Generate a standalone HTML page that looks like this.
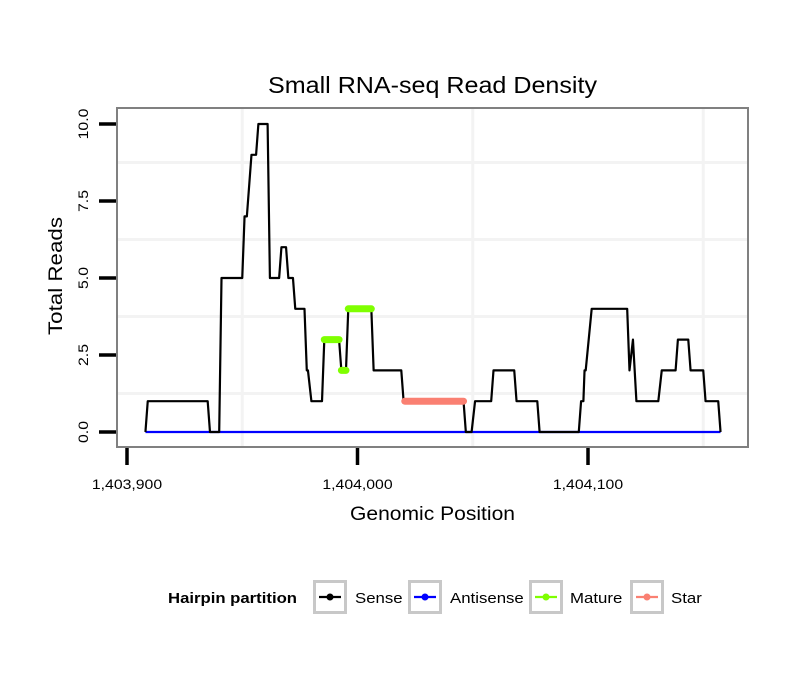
<!DOCTYPE html>
<html><head><meta charset="utf-8"><style>
body{margin:0;background:#fff}
svg{display:block;font-family:"Liberation Sans",sans-serif}
</style></head><body>
<svg id="chart" width="810" height="690">
<rect width="810" height="690" fill="#fff"/>
<text x="268" y="93" font-size="23" textLength="329" lengthAdjust="spacingAndGlyphs">Small RNA-seq Read Density</text>
<g id="grid"></g>
<g id="series"></g>
<rect x="117" y="108" width="631" height="339" fill="none" stroke="#808080" stroke-width="2"/>
<g id="axes"></g>
<text x="350" y="520" font-size="19" textLength="165" lengthAdjust="spacingAndGlyphs">Genomic Position</text>
<text transform="translate(62,335) rotate(-90)" font-size="19" textLength="118" lengthAdjust="spacingAndGlyphs">Total Reads</text>
<g>
<text x="168" y="603" font-size="15" font-weight="bold" textLength="129" lengthAdjust="spacingAndGlyphs">Hairpin partition</text>
<g id="legend"></g>
</g>
</svg>
<script>
const sensePos=[1403908,1403909,1403935,1403936,1403940,1403941,1403950,1403951,1403952,1403954,1403956,1403957,1403961,1403962,1403966,1403967,1403969,1403970,1403972,1403973,1403977,1403978,1403978.5,1403980,1403984.6,1403985.6,1403992,1403993,1403995,1403996,1404006,1404007,1404019,1404020,1404046,1404047,1404049.5,1404051,1404058,1404059,1404068,1404069,1404078,1404079,1404096,1404097,1404098,1404098.5,1404099,1404101.6,1404117,1404118,1404119.5,1404121,1404130.5,1404132,1404138,1404139,1404143.5,1404144.5,1404150,1404151,1404156.5,1404157.5];
const senseVal=[0,1,1,0,0,5,5,7,7,9,9,10,10,5,5,6,6,5,5,4,4,2,2,1,1,3,3,2,2,4,4,2,2,1,1,0,0,1,1,2,2,1,1,0,0,1,1,2,2,4,4,2,3,1,1,2,2,3,3,2,2,1,1,0];
const antisensePos=[1403908,1404157.5];
const antisenseVal=[0,0];
const matureSegStart=[1403985.6,1403993,1403996];
const matureSegEnd=[1403992,1403995,1404006];
const matureVal=[3,2,4];
const starSegStart=[1404020.5];
const starSegEnd=[1404046];
const starVal=[1];
const xTicks=[1403900,1404000,1404100];
const xTickLabels=["1,403,900","1,404,000","1,404,100"];
const yTicks=[0,2.5,5,7.5,10];
const yTickLabels=["0.0","2.5","5.0","7.5","10.0"];
const xMinorGrid=[1403950,1404050,1404150];
const yMinorGrid=[1.25,3.75,6.25,8.75];
const legendLabels=["Sense","Antisense","Mature","Star"];
const legendColors=["#000","#0000ff","#7fff00","#fa8072"];

const X=v=>127+(v-1403900)*2.305;
const Y=v=>432-v*30.8;
const NS="http://www.w3.org/2000/svg";
function mk(t,a,p){const e=document.createElementNS(NS,t);for(const k in a)e.setAttribute(k,a[k]);p.appendChild(e);return e;}
function widen(t,f){const w=t.getComputedTextLength();t.setAttribute('textLength',w*f);t.setAttribute('lengthAdjust','spacingAndGlyphs');}
const grid=document.getElementById('grid'),ser=document.getElementById('series'),ax=document.getElementById('axes'),lg=document.getElementById('legend');
xMinorGrid.forEach(v=>{const l=mk('line',{x1:X(v),x2:X(v),y1:109,y2:446,stroke:'#f3f3f3','stroke-width':3},grid);

});
yMinorGrid.forEach(v=>{const l=mk('line',{x1:118,x2:747,y1:Y(v),y2:Y(v),stroke:'#f3f3f3','stroke-width':3},grid);

});
function line(ps,vs,col,name){const p=mk('polyline',{points:ps.map((x,i)=>X(x)+','+Y(vs[i])).join(' '),fill:'none',stroke:col,'stroke-width':2.2,'stroke-linejoin':'round'},ser);

}
line(antisensePos,antisenseVal,'#0000ff','antisense-line');
line(sensePos,senseVal,'#000','sense-line');
function segs(s,e,v,col,name){s.forEach((a,i)=>{const l=mk('line',{x1:X(a),x2:X(e[i]),y1:Y(v[i]),y2:Y(v[i]),stroke:col,'stroke-width':7,'stroke-linecap':'round'},ser);

});}
segs(matureSegStart,matureSegEnd,matureVal,'#7fff00','mature-segment');
segs(starSegStart,starSegEnd,starVal,'#fa8072','star-segment');
xTicks.forEach((v,i)=>{const t=mk('line',{x1:X(v),x2:X(v),y1:448,y2:465,stroke:'#000','stroke-width':3.5},ax);


const tx=mk('text',{x:X(v),y:489,'text-anchor':'middle','font-size':13.5},ax);tx.textContent=xTickLabels[i];


widen(tx,1.17);});
yTicks.forEach((v,i)=>{const t=mk('line',{x1:99,x2:116,y1:Y(v),y2:Y(v),stroke:'#000','stroke-width':3.5},ax);


const tx=mk('text',{transform:`translate(88,${Y(v)}) rotate(-90)`,'text-anchor':'middle','font-size':13.5},ax);tx.textContent=yTickLabels[i];


widen(tx,1.17);});
const boxX=[313,408,529,630];
const textX=[355,450,570,671];
legendLabels.forEach((lab,i)=>{const bx=boxX[i];
const b=mk('rect',{x:bx+1.5,y:581.5,width:31,height:31,fill:'#fff',stroke:'#c8c8c8','stroke-width':3},lg);


mk('line',{x1:bx+6,x2:bx+28,y1:597,y2:597,stroke:legendColors[i],'stroke-width':2.2},lg);
mk('circle',{cx:bx+17,cy:597,r:3.5,fill:legendColors[i]},lg);
const t=mk('text',{x:textX[i],y:603,'font-size':15},lg);t.textContent=lab;


widen(t,1.12);});
</script>
</body></html>
